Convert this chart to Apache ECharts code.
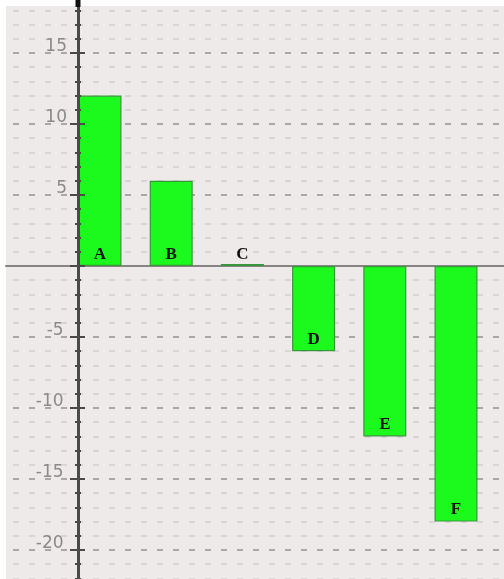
<!DOCTYPE html>
<html><head><meta charset="utf-8">
<script src="https://cdn.jsdelivr.net/npm/echarts@6/dist/echarts.min.js"></script>
<style>html,body{margin:0;padding:0;background:#fff}#c{width:504px;height:579px}</style>
</head><body><div id="c"></div>
<script>
const categories = ['A', 'B', 'C', 'D', 'E', 'F'];
const values = [12, 6, 0, -6, -12, -18];
const yLabelTicks = [-20, -15, -10, -5, 5, 10, 15];
const yMin = -25, yMax = 20;
const xMin = -5.07, xMax = 30;

const chart = echarts.init(document.getElementById('c'), null, { renderer: 'canvas' });
const gridPos = { top: -18, bottom: -42, containLabel: false, outerBoundsMode: 'none' };
const axisCol = '#4a4a4a';
const yAxisOffset = -72;
const option = {
  animation: false,
  backgroundColor: '#ffffff',
  graphic: [{ type: 'rect', shape: { x: 6, y: 6, width: 498, height: 573 }, style: { fill: '#eeeaea' }, z: -10, silent: true }],
  grid: [
    Object.assign({ left: 6, right: 0 }, gridPos),
    Object.assign({ left: 64.4, right: 12.4 }, gridPos)
  ],
  xAxis: [
    { gridIndex: 0, type: 'value', min: xMin, max: xMax, position: 'bottom', z: 1,
      axisLine: { onZero: true, onZeroAxisIndex: 0, lineStyle: { color: '#858585', width: 2 } },
      axisTick: { show: false }, axisLabel: { show: false }, splitLine: { show: false } },
    { gridIndex: 1, type: 'category', data: categories, show: false }
  ],
  yAxis: [
    { gridIndex: 0, type: 'value', position: 'left', offset: yAxisOffset, min: yMin, max: yMax, interval: 1, z: 0,
      axisLine: { show: false, onZero: false },
      axisTick: { show: false },
      axisLabel: { margin: 11, verticalAlign: 'bottom', lineHeight: 12, color: '#8a8a8a', fontSize: 17, fontFamily: 'DejaVu Sans',
        formatter: v => yLabelTicks.includes(v) ? (v < 0 ? v + '\u2009' : String(v)) : '' },
      splitLine: { show: true, lineStyle: { color: '#d7d5d5', width: 2, type: [6, 10], dashOffset: 9 } } },
    { gridIndex: 0, type: 'value', position: 'left', offset: yAxisOffset, min: yMin, max: yMax, interval: 5, z: 0,
      axisLine: { show: false, onZero: false },
      axisTick: { show: false }, axisLabel: { show: false },
      splitLine: { show: true, lineStyle: { color: '#a9a7a7', width: 2, type: [6, 10], dashOffset: 9 } } },
    { gridIndex: 0, type: 'value', position: 'left', offset: yAxisOffset, min: yMin, max: yMax, interval: 1, z: 6,
      axisLine: { show: true, onZero: false, lineStyle: { color: axisCol, width: 3 } },
      axisTick: { show: true, inside: false, length: 3, lineStyle: { color: axisCol, width: 2 } },
      axisLabel: { show: false }, splitLine: { show: false } },
    { gridIndex: 0, type: 'value', position: 'left', offset: yAxisOffset, min: yMin, max: yMax, interval: 1, z: 6,
      axisLine: { show: false, onZero: false },
      axisTick: { show: true, inside: true, length: 3, lineStyle: { color: axisCol, width: 2 } },
      axisLabel: { show: false }, splitLine: { show: false } },
    { gridIndex: 0, type: 'value', position: 'left', offset: yAxisOffset, min: yMin, max: yMax, interval: 5, z: 6,
      axisLine: { show: false, onZero: false },
      axisTick: { show: true, inside: false, length: 8, lineStyle: { color: axisCol, width: 2 } },
      axisLabel: { show: false }, splitLine: { show: false } },
    { gridIndex: 0, type: 'value', position: 'left', offset: yAxisOffset, min: yMin, max: yMax, interval: 5, z: 6,
      axisLine: { show: false, onZero: false },
      axisTick: { show: true, inside: true, length: 7, lineStyle: { color: axisCol, width: 2 } },
      axisLabel: { show: false }, splitLine: { show: false } },
    { gridIndex: 1, type: 'value', min: yMin, max: yMax, show: false, splitLine: { show: false } }
  ],
  series: [{
    type: 'bar', xAxisIndex: 1, yAxisIndex: 6, data: values, barWidth: 43, barMinHeight: 2, z: 2,
    itemStyle: { color: '#1cf91c', borderColor: '#3a963a', borderWidth: 1.2 },
    label: { show: true, position: 'insideBottom', distance: 3, color: '#111',
      fontFamily: 'Liberation Serif', fontWeight: 'bold', fontSize: 17,
      formatter: p => categories[p.dataIndex] }
  }]
};
chart.setOption(option);
// small dark stub where the y axis leaves the plot area at the top
const ax = chart.convertToPixel({ xAxisIndex: 0 }, 0);
chart.setOption({ graphic: [{ type: 'rect', shape: { x: 6, y: 6, width: 498, height: 573 }, style: { fill: '#eeeaea' }, z: -10, silent: true },
  { type: 'rect', shape: { x: ax - 2.5, y: 0, width: 5, height: 7 }, style: { fill: '#111' }, z: 10, silent: true }] });
</script>
</body></html>
